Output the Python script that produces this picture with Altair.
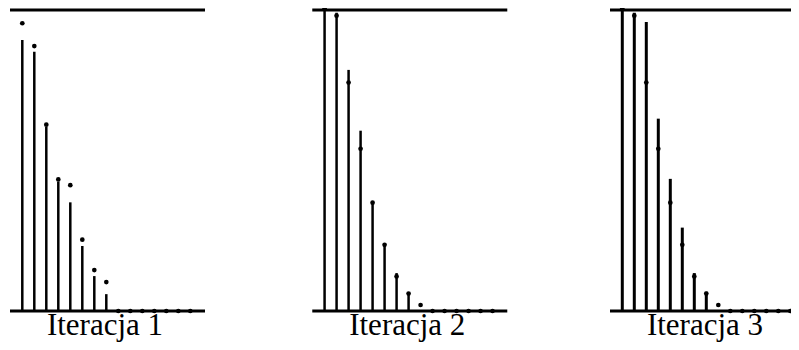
import altair as alt
import pandas as pd

# index of each coefficient (15 per panel)
idx = list(range(15))
titles = ["Iteracja 1", "Iteracja 2", "Iteracja 3"]

# heights of the vertical stems
stems = [
    [0.900, 0.861, 0.612, 0.430, 0.361, 0.216, 0.116, 0.056, 0, 0, 0, 0, 0, 0, 0],
    [1.000, 0.991, 0.801, 0.599, 0.360, 0.222, 0.126, 0.062, 0, 0, 0, 0, 0, 0, 0],
    [1.000, 0.991, 0.960, 0.639, 0.439, 0.277, 0.126, 0.064, 0, 0, 0, 0, 0, 0, 0],
]
# positions of the dots
dots = [
    [0.956, 0.880, 0.619, 0.437, 0.418, 0.237, 0.136, 0.096, 0, 0, 0, 0, 0, 0, 0],
    [1.006, 0.981, 0.759, 0.539, 0.360, 0.220, 0.115, 0.058, 0.020, 0, 0, 0, 0, 0, 0],
    [1.006, 0.981, 0.759, 0.539, 0.360, 0.220, 0.115, 0.058, 0.020, 0, 0, 0, 0, 0, 0],
]
edges = [0, 1]

# layout: horizontal offset of each panel, in index units
panel_off = [0.0, 25.19, 50.0]
stem_widths = [2.5, 2.5, 3.0]

W = 783
H = 334

rows = []
for p in range(3):
    for i in idx:
        rows.append({"p": p, "u": i + panel_off[p], "stem": stems[p][i],
                     "dot": dots[p][i], "zero": 0, "sw": stem_widths[p]})
df = pd.DataFrame(rows)

line_rows = []
for p in range(3):
    for e in edges:
        line_rows.append({"p": p, "v": e, "u0": panel_off[p] - 1.025,
                          "u1": panel_off[p] + 15.225})
lines_df = pd.DataFrame(line_rows)

labels_df = pd.DataFrame({"t": titles, "u": [o + 6.89 for o in panel_off]})

xs = alt.Scale(domain=[0, 14], range=[14.3, 182.3], nice=False, zero=False)
ys = alt.Scale(domain=[0, 1], range=[303, 2], nice=False, zero=False)

lines = alt.Chart(lines_df).mark_rule(color="black", strokeWidth=3).encode(
    x=alt.X("u0:Q", scale=xs, axis=None),
    x2="u1:Q",
    y=alt.Y("v:Q", scale=ys, axis=None),
)

st = alt.Chart(df).transform_filter("datum.stem > 0").mark_rule(color="black").encode(
    x=alt.X("u:Q", scale=xs, axis=None),
    y=alt.Y("zero:Q", scale=ys, axis=None),
    y2="stem:Q",
    strokeWidth=alt.StrokeWidth("sw:Q", scale=None, legend=None),
)

dt = alt.Chart(df).mark_circle(color="black", size=22, opacity=1).encode(
    x=alt.X("u:Q", scale=xs, axis=None),
    y=alt.Y("dot:Q", scale=ys, axis=None),
)

label = alt.Chart(labels_df).mark_text(
    font="Liberation Serif", fontSize=31, align="center",
    baseline="alphabetic", color="black"
).encode(
    x=alt.X("u:Q", scale=xs, axis=None),
    y=alt.value(326.5),
    text="t:N",
)

chart = alt.layer(lines, st, dt, label).properties(
    width=W, height=H,
    autosize=alt.AutoSizeParams(type="none"),
    padding=0,
).configure_view(stroke=None)

chart.save("out.html", embed_options={"renderer": "svg", "actions": False})
